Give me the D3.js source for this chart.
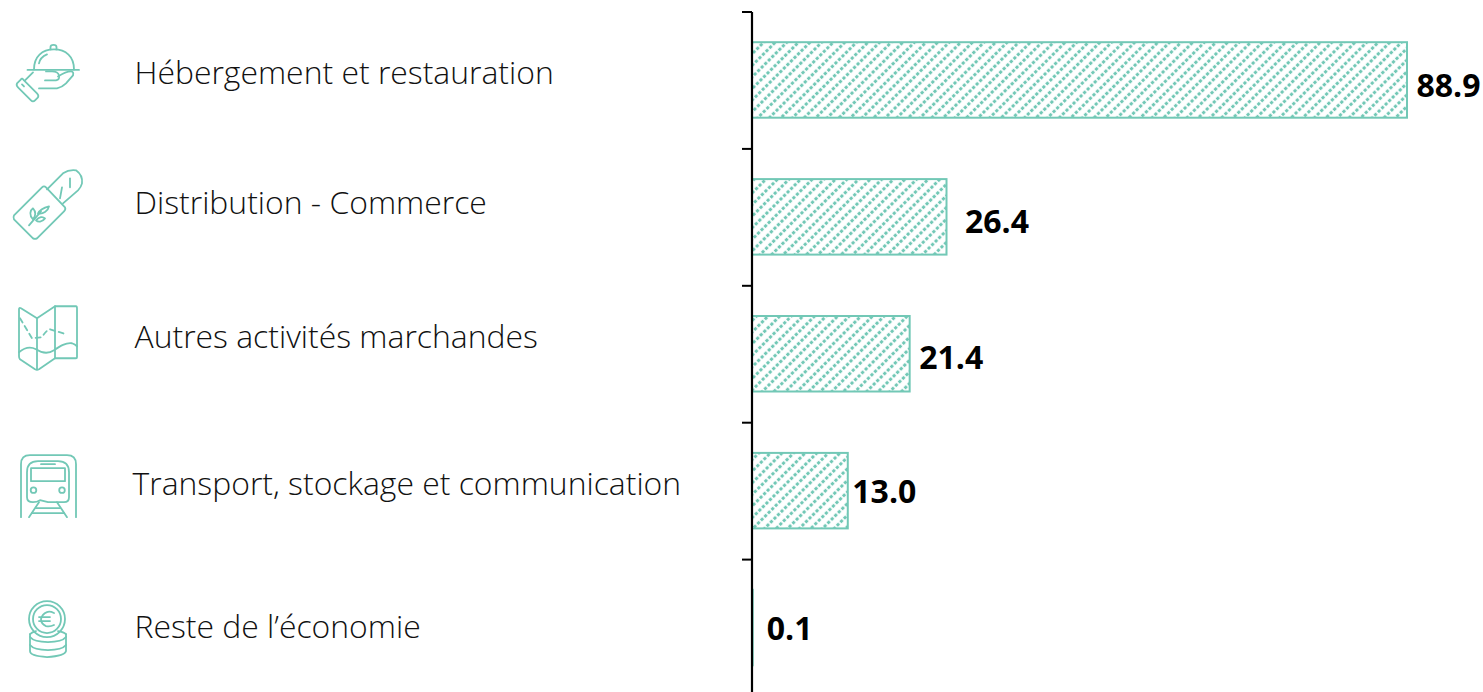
<!DOCTYPE html>
<html><head><meta charset="utf-8">
<script src="https://cdn.jsdelivr.net/npm/d3@7"></script>
<style>html,body{margin:0;background:#fff;overflow:hidden}svg{display:block}</style>
</head><body><div id="c"></div>
<script>
const categories=["Hébergement et restauration","Distribution - Commerce","Autres activités marchandes","Transport, stockage et communication","Reste de l’économie"];
const values=[88.9,26.4,21.4,13.0,0.1];
const valueLabels=["88.9","26.4","21.4","13.0","0.1"];
const labelX=[134.5,134.5,134.5,132.5,134.5];
const labelDy=[0,-7,-10,0,6];
const valueGap=[9.5,18.5,9.5,4.5,14];
const valueDy=[1.5,1,-0.5,-3.5,-3.5];
const teal="#72c8b6";
const W=1483,H=692;
const svg=d3.select("#c").append("svg").attr("width",W).attr("height",H);
const defs=svg.append("defs");
const p=defs.append("pattern").attr("id","hatch").attr("patternUnits","userSpaceOnUse").attr("width",5).attr("height",8.2).attr("patternTransform","rotate(-45)");
p.append("rect").attr("x",0).attr("y",2.6).attr("width",3.2).attr("height",3).attr("fill",teal);

const x=d3.scaleLinear().domain([0,88.9]).range([752,1407]);
const y=d3.scaleBand().domain(categories).range([12,696.5]);
const barH=75.5;

svg.append("g").selectAll("rect").data(values).join("rect")
 .attr("x",x(0)).attr("y",(d,i)=>y(categories[i])+(y.bandwidth()-barH)/2-0.5)
 .attr("width",d=>x(d)-x(0)).attr("height",barH)
 .attr("fill","url(#hatch)").attr("stroke",teal).attr("stroke-width",2);

const ax=d3.axisLeft(y).tickSize(0).tickFormat("");
const gA=svg.append("g").attr("transform","translate(752,0)").call(ax);
gA.select(".domain").attr("stroke","#000").attr("stroke-width",2.2).attr("d","M0,12V692");
const tickYs=d3.range(0,5).map(i=>y.range()[0]+i*y.step());
gA.selectAll(".edge").data(tickYs).join("line").attr("x1",-10).attr("x2",0).attr("y1",d=>d).attr("y2",d=>d).attr("stroke","#000").attr("stroke-width",2);

svg.append("g").selectAll("text").data(categories).join("text")
 .attr("x",(d,i)=>labelX[i]).attr("y",(d,i)=>y(d)+y.bandwidth()/2+labelDy[i]+3.5)
 .attr("font-family","'Open Sans'").attr("font-weight",300).attr("font-size",31.9).attr("fill","#111").text(d=>d);

svg.append("g").selectAll("text").data(values).join("text")
 .attr("x",(d,i)=>x(d)+valueGap[i]).attr("y",(d,i)=>y(categories[i])+y.bandwidth()/2+15+valueDy[i])
 .attr("font-family","'Open Sans'").attr("font-weight",700).attr("font-size",32).attr("fill","#000").text((d,i)=>valueLabels[i]);

// icons, each drawn in a local frame anchored to its category band
const icons=svg.append("g").attr("fill","none").attr("stroke",teal).attr("stroke-width",1.8).attr("stroke-linecap","round").attr("stroke-linejoin","round");
const anchor=i=>y(categories[i])+y.bandwidth()/2;
function icon(i,dx,dy){return icons.append("g").attr("transform",`translate(${dx},${anchor(i)+dy})`);}
function paths(g,list){list.forEach(d=>g.append("path").attr("d",d));}

// 0: cloche on a hand
paths(icon(0,0,-80),[
 "M34,69C34,56 42,49 54,49C66,49 74,56 74,69",
 "M27.5,69.5H79",
 "M50.5,49V46.5Q50.5,44.5 53.5,44.5Q56.5,44.5 56.5,46.5V49",
 "M39,63Q40,57 47,54",
 "M33,72L25,80",
 "M21,79L17,83Q16,85 18,87L31,100Q33,102 35,100L38,97Q39,95 37,93L24,80Q22,77 21,79Z",
 "M22,84L24,86",
 "M39,88H57Q62,87 66,83L73,75Q74,71 71,71Q66,71 58,76",
 "M45,80H56Q60,79 59,75Q58,71 52,71H46"
]);

// 1: baguette bag
paths(icon(1,0,-217),[
 "M14,215L42,187Q44,185 46,187L65,207Q66,209 64,211L37,238Q35,239 33,238L14,219Q13,217 14,215Z",
 "M47,189L63,173Q69,169 76,170Q83,175 82,183Q81,187 78,190L63,203",
 "M60,198L62,187","M70,178V187",
 "M29,225L41,211",
 "M33,219C29,215 30,210 33,208C36,211 36,216 33,219Z",
 "M36,220C39,216 43,216 45,218C42,222 38,222 36,220Z",
 "M38,213C40,209 45,207 49,206C48,211 43,214 38,213Z"
]);

// 2: map
paths(icon(2,0,-354),[
 "M19,309Q19,307 21,308L37,318L55,306H76Q77,306 77,308V357Q77,358 76,358H55L39,369Q37,370 35,369L20,359Q19,358 19,356Z",
 "M37,318V369","M55,306V358",
 "M19,352C25,347 30,346 36,349C42,353 48,354 54,350C60,346 66,342 72,343Q75,344 77,346"
]);
icon(2,0,-354).attr("stroke-dasharray","5 4").append("path").attr("d","M20,318L32,338L42,337Q46,330 50,329L66,334");

// 3: train
paths(icon(3,0,-491),[
 "M21,517V464Q21,455 30,455H67Q76,455 76,464V517",
 "M27,497V472Q27,461 38,461H58Q69,461 69,472V497Q69,502 64,502H48L40,500Q37,502 33,502Q27,502 27,497Z",
 "M31,468H65V481H31Z","M41,464H55",
 "M29,517L39,502","M67,517L57,502","M36,508H60","M32,513H64"
]);
const g3=icon(3,0,-491);
[[33.5,490],[62,490]].forEach(c=>g3.append("circle").attr("cx",c[0]).attr("cy",c[1]).attr("r",2.8));

// 4: euro coins
const g4=icon(4,0,-628);
g4.append("circle").attr("cx",47).attr("cy",619).attr("r",18);
g4.append("circle").attr("cx",47).attr("cy",619).attr("r",14);
paths(g4,[
 "M54,613Q50,611 47,612Q42,614 41,619Q41,624 46,626Q50,627 54,625",
 "M39,617H50","M39,621H50",
 "M30,634V651Q30,656 47,657Q65,656 66,651V634",
 "M30,634Q32,632 36,631","M66,634Q64,632 58,631",
 "M30,637Q34,642 48,642Q62,642 66,637",
 "M30,645Q34,650 48,650Q62,650 66,645"
]);
</script></body></html>
